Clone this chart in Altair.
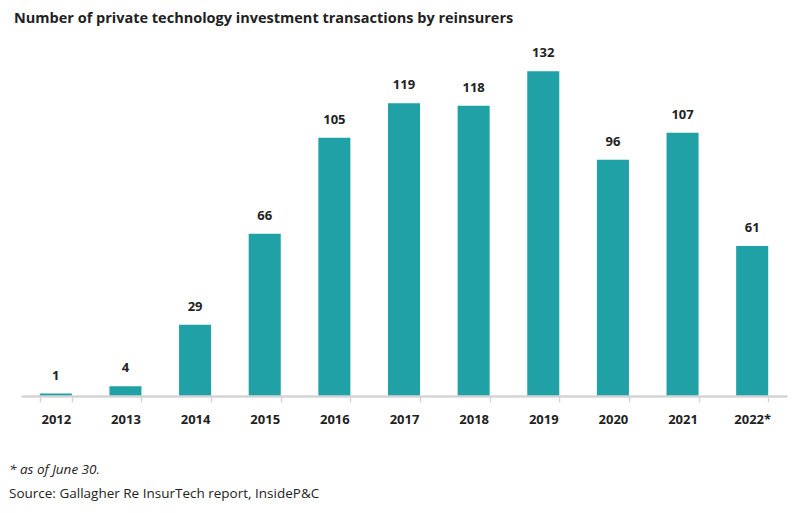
import altair as alt
import pandas as pd

years = ["2012", "2013", "2014", "2015", "2016", "2017", "2018", "2019", "2020", "2021", "2022*"]
counts = [1, 4, 29, 66, 105, 119, 118, 132, 96, 107, 61]

title_text = "Number of private technology investment transactions by reinsurers"
note_text = "* as of June 30."
source_text = "Source: Gallagher Re InsurTech report, InsideP&C"

df = pd.DataFrame({"year": years, "count": counts})

FONT = "Open Sans"
TEAL = "#1fa1a5"
GRID = "#d4d4d4"
W, H = 766, 369

xscale = alt.Scale(paddingInner=0.54, paddingOuter=0.27)
yscale = alt.Scale(domain=[0, 150])

base = alt.Chart(df)

bars = base.mark_bar(color=TEAL).encode(
    x=alt.X("year:N", sort=years, scale=xscale,
            axis=alt.Axis(title=None, labelAngle=0, labelFont=FONT, labelFontSize=13,
                          labelFontWeight="bold", labelColor="#222222", labelPadding=11,
                          ticks=True, tickBand="extent", tickSize=6, tickColor=GRID,
                          tickWidth=1.5, domainColor=GRID, domainWidth=2.5, zindex=1)),
    y=alt.Y("count:Q", scale=yscale, axis=None),
)

labels = base.mark_text(font=FONT, fontSize=13, fontWeight="bold", color="#222222",
                        baseline="bottom", dy=-11).encode(
    x=alt.X("year:N", sort=years, scale=xscale),
    y=alt.Y("count:Q", scale=yscale),
    text="count:Q",
)

def txt(s, y, size, weight="normal", style="normal", x=-12, baseline="middle"):
    return alt.Chart(pd.DataFrame({"t": [s]})).mark_text(
        font=FONT, fontSize=size, fontWeight=weight, fontStyle=style, color="#222222",
        align="left", baseline=baseline).encode(
        x=alt.value(x), y=alt.value(y), text="t:N")

title = txt(title_text, -4, 14.5, weight="bold", x=-7, baseline="alphabetic")
note = txt(note_text, 443, 13.5, style="italic", x=-12)
source = txt(source_text, 467, 13.5, x=-12)

chart = alt.layer(bars, labels, title, note, source).properties(
    width=W, height=H,
    autosize=alt.AutoSizeParams(type="none"),
    padding={"left": 13, "top": 19, "right": 5, "bottom": 110},
).configure_view(stroke=None)

chart.save("out.html", embed_options={"renderer": "svg", "actions": False})
